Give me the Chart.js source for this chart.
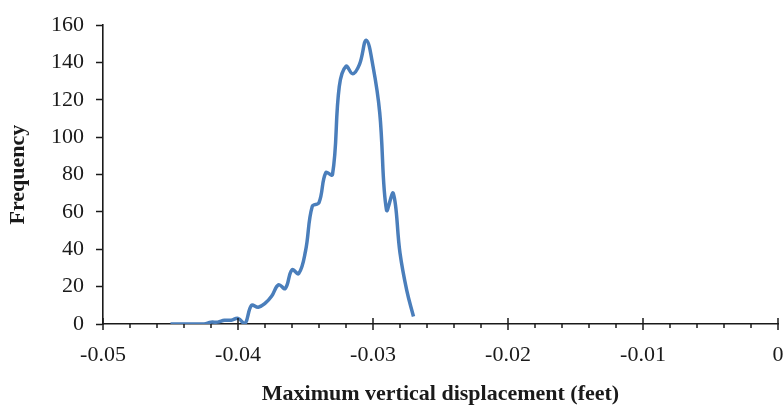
<!DOCTYPE html>
<html>
<head>
<meta charset="utf-8">
<title>Maximum vertical displacement histogram</title>
<script src="https://cdn.jsdelivr.net/npm/chart.js@4.4.1/dist/chart.umd.min.js"></script>
<style>
  html, body { margin: 0; padding: 0; background: #fff; }
  #wrap { width: 783px; height: 405px; }
</style>
</head>
<body>
<div id="wrap"><canvas id="chart" width="783" height="405"></canvas></div>
<script>
/* ---------- data ---------- */
const displacement = [
  -0.045, -0.0445, -0.044, -0.0435, -0.043, -0.0425, -0.042, -0.0415,
  -0.041, -0.0405, -0.04, -0.0395, -0.039, -0.0385, -0.038, -0.0375,
  -0.037, -0.0365, -0.036, -0.0355, -0.035, -0.0345, -0.034, -0.0335,
  -0.033, -0.0325, -0.032, -0.0315, -0.031, -0.0305, -0.03, -0.0295,
  -0.029, -0.0285, -0.028, -0.0275, -0.027,
];
const frequency = [
  0, 0, 0, 0, 0, 0, 1, 1,
  2, 2, 3, 0, 10, 9, 11, 15,
  21, 19, 29, 27, 39, 63, 65, 81,
  80, 127, 138, 134, 139, 152, 138, 113,
  61, 70, 38, 18, 4,
];
// x axis: major ticks every 0.01, four minor ticks between
const xTicks = [
  -0.05, -0.048, -0.046, -0.044, -0.042,
  -0.04, -0.038, -0.036, -0.034, -0.032,
  -0.03, -0.028, -0.026, -0.024, -0.022,
  -0.02, -0.018, -0.016, -0.014, -0.012,
  -0.01, -0.008, -0.006, -0.004, -0.002, 0,
];
const yMin = 0, yMax = 160, yStep = 20;

const X_TITLE = "Maximum vertical displacement (feet)";
const Y_TITLE = "Frequency";

/* ---------- styling ---------- */
const SERIF = "'Liberation Serif', 'Times New Roman', serif";
const LINE = "#4a7ebb";
const AXIS = "#1a1a1a";
const TEXT = "#1a1a1a";

// x ticks: major crossing the axis, minor only below it
const xTickMarks = {
  id: "xTickMarks",
  afterDraw(chart) {
    const sx = chart.scales.x, ctx = chart.ctx, y0 = sx.top;
    ctx.save();
    ctx.strokeStyle = AXIS;
    ctx.lineWidth = 1.5;
    sx.ticks.forEach((t, i) => {
      const px = sx.getPixelForValue(t.value);
      const major = i % 5 === 0;
      ctx.beginPath();
      ctx.moveTo(px, major ? y0 - 6 : y0);
      ctx.lineTo(px, y0 + (major ? 6 : 4));
      ctx.stroke();
    });
    ctx.restore();
  },
};

new Chart(document.getElementById("chart"), {
  type: "line",
  data: {
    datasets: [{
      data: displacement.map((x, i) => ({ x, y: frequency[i] })),
      borderColor: LINE,
      borderWidth: 3.5,
      tension: 0.4,
      pointRadius: 0,
      fill: false,
    }],
  },
  options: {
    responsive: false,
    animation: false,
    layout: { padding: { left: 5, right: 5, top: 22, bottom: 0 } },
    plugins: { legend: { display: false }, tooltip: { enabled: false } },
    scales: {
      x: {
        type: "linear",
        min: -0.05, max: 0,
        afterBuildTicks: (axis) => { axis.ticks = xTicks.map((v) => ({ value: v })); },
        afterFit: (axis) => {
          axis.height = 81;
          axis.paddingLeft = 0;
          axis.paddingRight = 0;
        },
        grid: { display: true, drawOnChartArea: false, drawTicks: false },
        border: { display: true, color: AXIS, width: 1.6 },
        ticks: {
          autoSkip: false, maxRotation: 0, padding: 18,
          color: TEXT, font: { family: SERIF, size: 22 },
          callback: (v, i) => i % 5 === 0 ? (Math.abs(v) < 1e-9 ? "0" : v.toFixed(2)) : "",
        },
        title: {
          display: true, text: X_TITLE, color: TEXT, padding: 0,
          font: { family: SERIF, size: 22, weight: "bold", lineHeight: 1.0 },
        },
      },
      y: {
        min: yMin, max: yMax,
        afterFit: (axis) => { axis.width = 98; },
        grid: { drawOnChartArea: false, drawTicks: true, tickLength: 7,
                tickColor: AXIS, tickWidth: 1.5 },
        border: { display: true, color: AXIS, width: 1.6 },
        ticks: { stepSize: yStep, padding: 12, color: TEXT,
                 font: { family: SERIF, size: 22 } },
        title: {
          display: true, text: Y_TITLE, color: TEXT, padding: 0,
          font: { family: SERIF, size: 22, weight: "bold", lineHeight: 1.2 },
        },
      },
    },
  },
  plugins: [xTickMarks],
});
</script>
</body>
</html>
